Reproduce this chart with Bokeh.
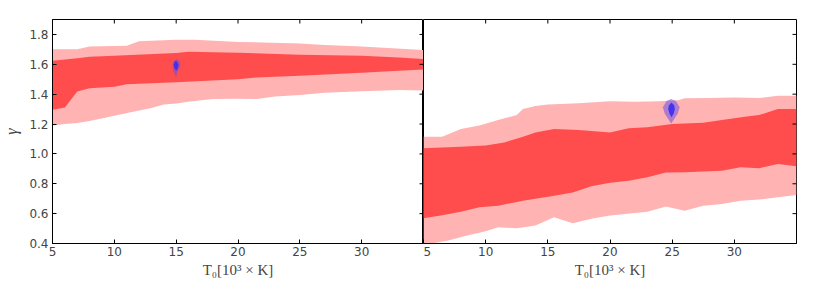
import math
from bokeh.plotting import figure
from bokeh.layouts import row
from bokeh.models import FixedTicker, LinearAxis, Range1d
from bokeh.embed import file_html
from bokeh.resources import INLINE

# ---------------- data ----------------
x_ticks = [5, 10, 15, 20, 25, 30]
y_ticks = [0.4, 0.6, 0.8, 1.0, 1.2, 1.4, 1.6, 1.8]
y_tick_labels = ["0.4", "0.6", "0.8", "1.0", "1.2", "1.4", "1.6", "1.8"]
x_lim = (5, 35)
y_lim = (0.4, 1.9)
x_label = "T\u2080[10\u00b3 \u00d7 K]"
y_label = "\u03b3"

# left panel: 2-sigma (outer) and 1-sigma (inner) bands
L_outer_up_x = [5, 7, 8, 11, 12, 15, 16.5, 20, 25, 27, 30, 35]
L_outer_up_y = [1.70, 1.70, 1.72, 1.725, 1.755, 1.765, 1.765, 1.75, 1.74, 1.73, 1.72, 1.695]
L_outer_lo_x = [5, 6, 7, 8, 10, 12, 13, 14, 15, 16, 17, 18, 20, 21.5, 23, 25, 27, 30, 33, 35]
L_outer_lo_y = [1.19, 1.20, 1.207, 1.22, 1.256, 1.29, 1.307, 1.33, 1.338, 1.35, 1.36, 1.367,
                1.37, 1.367, 1.385, 1.394, 1.41, 1.42, 1.428, 1.425]
L_inner_up_x = [5, 7, 8, 10, 15, 16, 20, 25, 30, 33, 35]
L_inner_up_y = [1.624, 1.64, 1.65, 1.657, 1.675, 1.684, 1.677, 1.664, 1.657, 1.646, 1.635]
L_inner_lo_x = [5, 6, 7, 8, 10, 11, 12, 15, 20, 21.5, 25, 30, 33, 35]
L_inner_lo_y = [1.296, 1.31, 1.418, 1.44, 1.45, 1.467, 1.47, 1.48, 1.50, 1.512, 1.523,
                1.543, 1.557, 1.566]

# right panel bands
R_outer_up_x = [5, 6.5, 8, 9.5, 11, 12.5, 13, 14, 15, 17.5, 20, 22, 24, 25.5, 26, 28, 30, 32, 33.5, 35]
R_outer_up_y = [1.115, 1.115, 1.167, 1.19, 1.227, 1.26, 1.30, 1.32, 1.33, 1.34, 1.352, 1.35,
                1.352, 1.36, 1.372, 1.374, 1.378, 1.374, 1.39, 1.39]
R_outer_lo_x = [5, 7, 8.5, 10, 11, 12.5, 14, 15.5, 17, 18.5, 20, 23, 24.5, 26, 27.5, 29, 30.5, 32, 33.5, 35]
R_outer_lo_y = [0.39, 0.42, 0.453, 0.482, 0.508, 0.502, 0.52, 0.576, 0.535, 0.565, 0.587,
                0.613, 0.647, 0.62, 0.653, 0.665, 0.687, 0.694, 0.71, 0.725]
R_inner_up_x = [5, 8, 10, 11.5, 13, 14, 15.5, 17.5, 20, 21.5, 23, 25, 27.5, 29, 31, 32, 33.5, 35]
R_inner_up_y = [1.037, 1.048, 1.057, 1.077, 1.115, 1.144, 1.167, 1.16, 1.144, 1.171, 1.178,
                1.20, 1.209, 1.227, 1.25, 1.26, 1.30, 1.30]
R_inner_lo_x = [5, 6.5, 8, 9.5, 11, 13, 15.5, 17, 18.5, 20, 21.5, 23, 24.5, 26, 29, 30.5, 32, 33.5, 35]
R_inner_lo_y = [0.569, 0.59, 0.613, 0.642, 0.653, 0.687, 0.72, 0.741, 0.783, 0.806, 0.82,
                0.844, 0.875, 0.877, 0.888, 0.91, 0.904, 0.933, 0.917]

# blue contours (posterior of the fiducial point)
L_blue_out_x = [15.05, 15.3, 15.35, 15.1, 15.0, 14.75, 14.7, 14.85]
L_blue_out_y = [1.637, 1.62, 1.59, 1.55, 1.512, 1.56, 1.595, 1.625]
L_blue_in_x = [15.02, 15.18, 15.15, 15.0, 14.85, 14.8, 14.88]
L_blue_in_y = [1.622, 1.60, 1.575, 1.557, 1.575, 1.60, 1.618]
R_blue_out_x = [24.92, 25.3, 25.6, 25.45, 24.92, 24.4, 24.25, 24.55]
R_blue_out_y = [1.368, 1.355, 1.312, 1.27, 1.203, 1.27, 1.312, 1.355]
R_blue_in_x = [24.95, 25.15, 25.22, 25.12, 24.95, 24.78, 24.68, 24.75]
R_blue_in_y = [1.345, 1.325, 1.30, 1.27, 1.245, 1.27, 1.30, 1.325]

# ---------------- styling ----------------
LIGHT = "#ffb3b3"
DARK = "#ff4d4d"
PURPLE = "#6a4ee6"
BLUE = "#3a2cf2"
TICK_FONT = "DejaVu Sans"
LABEL_FONT = "Liberation Serif"
TICK_LEN = 4


def poly(ux, uy, lx, ly):
    return list(ux) + list(lx)[::-1], list(uy) + list(ly)[::-1]


def make_panel(width, bl, br, show_y_axis, bands, blues):
    p = figure(width=width, height=285, output_backend="svg", toolbar_location=None,
               x_range=Range1d(*x_lim), y_range=Range1d(*y_lim),
               min_border_left=bl, min_border_right=br, min_border_top=19,
               min_border_bottom=42, x_axis_location=None, y_axis_location=None)
    p.grid.visible = False
    p.outline_line_color = "black"
    p.outline_line_width = 1
    p.background_fill_color = "white"
    p.border_fill_color = "white"

    (oux, ouy, olx, oly), (iux, iuy, ilx, ily) = bands
    xs, ys = poly(oux, ouy, olx, oly)
    p.patch(xs, ys, fill_color=LIGHT, line_color=None)
    xs, ys = poly(iux, iuy, ilx, ily)
    p.patch(xs, ys, fill_color=DARK, line_color=None)
    (box, boy), (bix, biy) = blues
    p.patch(box, boy, fill_color=PURPLE, fill_alpha=0.55, line_color=None)
    p.patch(bix, biy, fill_color=BLUE, fill_alpha=0.9, line_color=None)

    # inward ticks on the top and right edges
    p.ray(x=x_ticks, y=[y_lim[1]] * len(x_ticks), length=TICK_LEN, angle=-math.pi / 2,
          length_units="screen", line_color="black", line_width=1)
    p.ray(x=[x_lim[1]] * len(y_ticks), y=y_ticks, length=TICK_LEN, angle=math.pi,
          length_units="screen", line_color="black", line_width=1)

    # bottom axis
    xb = LinearAxis(axis_label=x_label)
    xb.ticker = FixedTicker(ticks=x_ticks)
    xb.major_tick_in = TICK_LEN
    xb.major_tick_out = 0
    xb.minor_tick_in = 0
    xb.minor_tick_out = 0
    xb.axis_line_color = "black"
    xb.major_label_text_font = TICK_FONT
    xb.major_label_text_font_size = "12px"
    xb.major_label_standoff = 3
    xb.axis_label_text_font = LABEL_FONT
    xb.axis_label_text_font_style = "normal"
    xb.axis_label_text_font_size = "15px"
    xb.axis_label_standoff = 3
    p.add_layout(xb, "below")

    if show_y_axis:
        yl = LinearAxis(axis_label=y_label)
        yl.ticker = FixedTicker(ticks=y_ticks)
        yl.major_tick_in = TICK_LEN
        yl.major_tick_out = 0
        yl.minor_tick_in = 0
        yl.minor_tick_out = 0
        yl.axis_line_color = "black"
        yl.major_label_overrides = {t: s for t, s in zip(y_ticks, y_tick_labels)}
        yl.major_label_text_font = TICK_FONT
        yl.major_label_text_font_size = "12px"
        yl.major_label_standoff = 4
        yl.axis_label_text_font = LABEL_FONT
        yl.axis_label_text_font_style = "italic"
        yl.axis_label_text_font_size = "16px"
        yl.axis_label_standoff = 6
        p.add_layout(yl, "left")
    return p


left = make_panel(423, 52, 0, True,
                  ((L_outer_up_x, L_outer_up_y, L_outer_lo_x, L_outer_lo_y),
                   (L_inner_up_x, L_inner_up_y, L_inner_lo_x, L_inner_lo_y)),
                  ((L_blue_out_x, L_blue_out_y), (L_blue_in_x, L_blue_in_y)))
right = make_panel(390, 0, 17, False,
                   ((R_outer_up_x, R_outer_up_y, R_outer_lo_x, R_outer_lo_y),
                    (R_inner_up_x, R_inner_up_y, R_inner_lo_x, R_inner_lo_y)),
                   ((R_blue_out_x, R_blue_out_y), (R_blue_in_x, R_blue_in_y)))

layout = row(left, right, spacing=0)
open("out.html", "w").write(file_html(layout, INLINE))
